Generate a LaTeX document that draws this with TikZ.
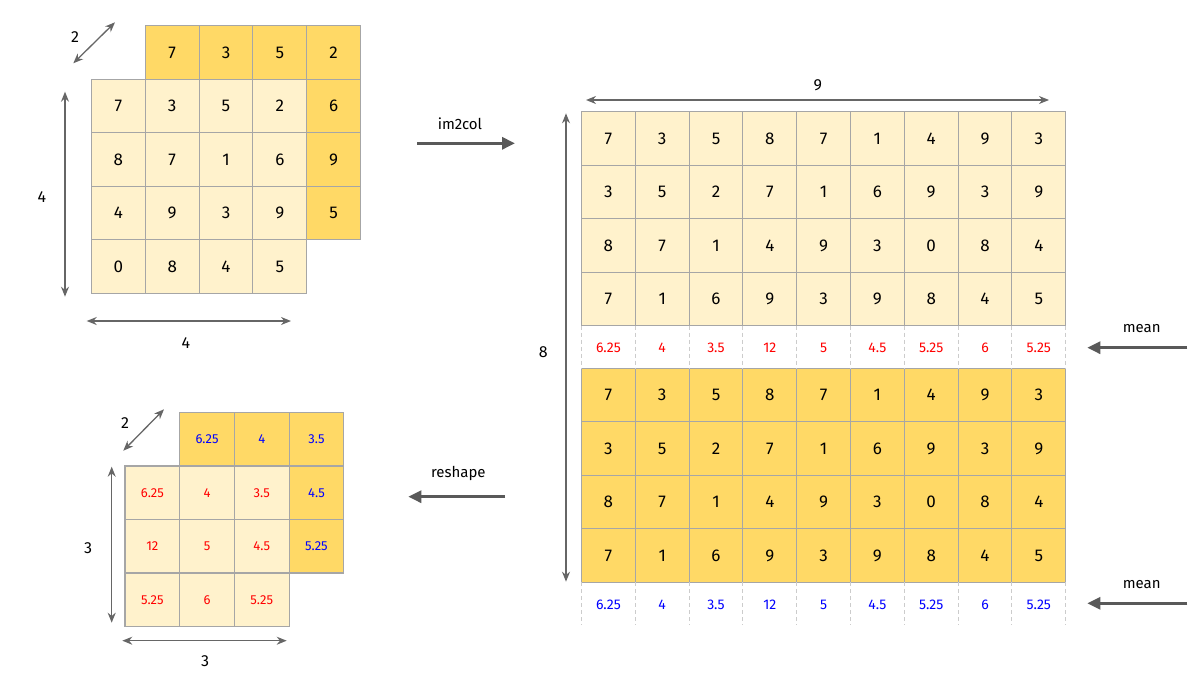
\documentclass[tikz,border=0pt]{standalone}
\usepackage{fontspec}
\setmainfont{Fira Sans}
\usetikzlibrary{arrows.meta}
\definecolor{lightc}{HTML}{FFF2CC}
\definecolor{darkc}{HTML}{FFD966}
\definecolor{gridc}{HTML}{A6A6A6}
\definecolor{arrc}{HTML}{666666}
\definecolor{procc}{HTML}{595959}
\definecolor{redc}{HTML}{FF0000}
\definecolor{bluec}{HTML}{0000FF}
\definecolor{dashc}{HTML}{CCCCCC}
\begin{document}
\begin{tikzpicture}[x=1pt,y=-1pt,
  cellbase/.style={draw=gridc, line width=1.1pt, inner sep=0pt, outer sep=0pt, text=black},
  bigcell/.style={cellbase, minimum width=53.8pt, minimum height=53.5pt, font=\fontsize{17}{17}\selectfont},
  smallcell/.style={cellbase, minimum width=54.7pt, minimum height=53.5pt, font=\fontsize{13}{13}\selectfont},
  meanred/.style={text=redc, font=\fontsize{14}{14}\selectfont},
  meanblue/.style={text=bluec, font=\fontsize{14}{14}\selectfont},
  dimlabel/.style={font=\fontsize{16}{16}\selectfont},
  proclabel/.style={font=\fontsize{15}{15}\selectfont},
  dimarr/.style={draw=arrc, line width=1.3pt, {Stealth[length=10pt,width=8pt]}-{Stealth[length=10pt,width=8pt]}},
  procarr/.style={draw=procc, line width=3pt, -{Triangle[length=13pt,width=12pt]}},
  dashsep/.style={draw=dashc, line width=1pt, dash pattern=on 4pt off 3pt}]
\useasboundingbox (0,0) rectangle (1202,683);

% ---------- top-left 2x4x4 tensor ----------
% back layer
\foreach \v [count=\c] in {7,3,5,2}
  \node[bigcell, fill=darkc] (P-1-\c) at ({145.3+53.8*(\c-0.5)},{25.8+53.5*0.5}) {\v};
\foreach \v [count=\r from 2] in {6,9,5}
  \node[bigcell, fill=darkc] (P-\r-4) at ({145.3+53.8*3.5},{25.8+53.5*(\r-0.5)}) {\v};
% front layer
\foreach \row [count=\r] in {{7,3,5,2},{8,7,1,6},{4,9,3,9},{0,8,4,5}}
  \foreach \v [count=\c] in \row
    \node[bigcell, fill=lightc] (F-\r-\c) at ({91.5+53.8*(\c-0.5)},{79.3+53.5*(\r-0.5)}) {\v};

\coordinate (d1a) at (73.3,63.3);  \coordinate (d1b) at (115,22.3);
\coordinate (v1a) at (65,91.7);    \coordinate (v1b) at (65,296.7);
\coordinate (h1a) at (86.7,321);   \coordinate (h1b) at (291,321);
\draw[dimarr] (d1a) -- (d1b);
\draw[dimarr] (v1a) -- (v1b);
\draw[dimarr] (h1a) -- (h1b);
\node[dimlabel] (l1d) at (75,37) {2};
\node[dimlabel] (l1v) at (42,197) {4};
\node[dimlabel] (l1h) at (186,343) {4};

% ---------- bottom-left 2x3x3 tensor ----------
\foreach \v [count=\c] in {6.25,4,3.5}
  \node[smallcell, fill=darkc, text=bluec] (Q-1-\c) at ({179.7+54.7*(\c-0.5)},{412.5+53.5*0.5}) {\v};
\foreach \v [count=\r from 2] in {4.5,5.25}
  \node[smallcell, fill=darkc, text=bluec] (Q-\r-3) at ({179.7+54.7*2.5},{412.5+53.5*(\r-0.5)}) {\v};
\foreach \row [count=\r] in {{6.25,4,3.5},{12,5,4.5},{5.25,6,5.25}}
  \foreach \v [count=\c] in \row
    \node[smallcell, fill=lightc, text=redc] (G-\r-\c) at ({125+54.7*(\c-0.5)},{466+53.5*(\r-0.5)}) {\v};

\coordinate (d2a) at (123.3,450.7); \coordinate (d2b) at (164,409.3);
\coordinate (v2a) at (111.7,466.7); \coordinate (v2b) at (111.7,622.7);
\coordinate (h2a) at (122.3,640.7); \coordinate (h2b) at (286.7,640.7);
\draw[dimarr] (d2a) -- (d2b);
\draw[dimarr] (v2a) -- (v2b);
\draw[dimarr] (h2a) -- (h2b);
\node[dimlabel] (l2d) at (125,423) {2};
\node[dimlabel] (l2v) at (88,548) {3};
\node[dimlabel] (l2h) at (205,661) {3};

% ---------- right im2col matrix ----------
\foreach \row [count=\r] in {{7,3,5,8,7,1,4,9,3},{3,5,2,7,1,6,9,3,9},{8,7,1,4,9,3,0,8,4},{7,1,6,9,3,9,8,4,5}} {
  \foreach \v [count=\c] in \row {
    \node[bigcell, fill=lightc] (A-\r-\c) at ({581.5+53.8*(\c-0.5)},{111.7+53.5*(\r-0.5)}) {\v};
    \node[bigcell, fill=darkc] (B-\r-\c) at ({581.5+53.8*(\c-0.5)},{368.3+53.5*(\r-0.5)}) {\v};
  }
}
% mean rows
\foreach \v [count=\c] in {6.25,4,3.5,12,5,4.5,5.25,6,5.25} {
  \node[meanred] (MR-\c) at ({581.5+53.8*(\c-0.5)},348) {\v};
  \node[meanblue] (MB-\c) at ({581.5+53.8*(\c-0.5)},605) {\v};
  \draw[dashsep] (A-4-\c.south west) -- (B-1-\c.north west);
  \draw[dashsep] (B-4-\c.south west) -- ++(0,43);
}
\draw[dashsep] (A-4-9.south east) -- (B-1-9.north east);
\draw[dashsep] (B-4-9.south east) -- ++(0,43);

\coordinate (h3a) at (586,100);   \coordinate (h3b) at (1049,100);
\coordinate (v3a) at (566,113.3); \coordinate (v3b) at (566,581.7);
\draw[dimarr] (h3a) -- (h3b);
\draw[dimarr] (v3a) -- (v3b);
\node[dimlabel] (l3h) at (817.7,85) {9};
\node[dimlabel] (l3v) at (543.3,351.7) {8};

% ---------- process arrows ----------
\coordinate (ia) at (417.3,143.3); \coordinate (ib) at (515,143.3);
\draw[procarr] (ia) -- (ib);
\node[proclabel] (lim) at (460,124) {im2col};
\coordinate (ra) at (505,496.7); \coordinate (rb) at (408.3,496.7);
\draw[procarr] (ra) -- (rb);
\node[proclabel] (lre) at (458.3,473) {reshape};
\coordinate (m1a) at (1187.3,347.7); \coordinate (m1b) at (1087.3,347.7);
\draw[procarr] (m1a) -- (m1b);
\node[proclabel] (lm1) at (1141.7,329) {mean};
\coordinate (m2a) at (1187.3,603.3); \coordinate (m2b) at (1087.3,603.3);
\draw[procarr] (m2a) -- (m2b);
\node[proclabel] (lm2) at (1141.7,585) {mean};
\end{tikzpicture}
\end{document}
